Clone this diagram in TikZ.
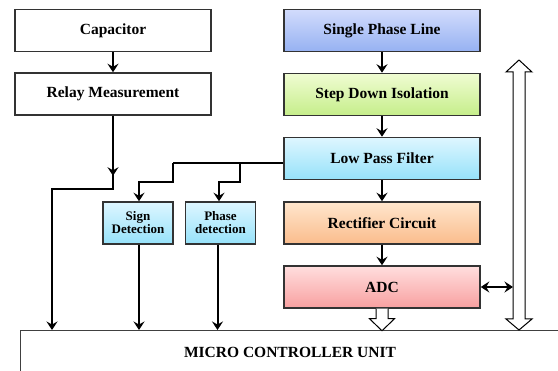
\documentclass[tikz,border=0pt]{standalone}
\usepackage{fontspec}
\setmainfont{Liberation Serif}
\usetikzlibrary{arrows.meta}

\definecolor{splTop}{RGB}{210,220,252}
\definecolor{splBot}{RGB}{150,178,242}
\definecolor{sdiTop}{RGB}{240,252,210}
\definecolor{sdiBot}{RGB}{198,238,138}
\definecolor{lpfTop}{RGB}{222,246,255}
\definecolor{lpfBot}{RGB}{150,226,250}
\definecolor{recTop}{RGB}{255,230,205}
\definecolor{recBot}{RGB}{250,188,140}
\definecolor{adcTop}{RGB}{255,222,222}
\definecolor{adcBot}{RGB}{248,160,160}

\tikzset{
  block/.style={draw=black!80, line width=1.5pt, minimum width=196pt, minimum height=42pt,
    inner sep=2pt, align=center, font=\fontsize{15.5}{17}\selectfont\bfseries},
  smallblock/.style={block, minimum width=70pt, font=\fontsize{13}{13}\selectfont\bfseries},
  arr/.style={line width=2pt, -{Stealth[length=8.5pt,width=11pt,inset=3pt]}},
  dblarr/.style={line width=2pt, {Stealth[length=8.5pt,width=11pt,inset=3pt]}-{Stealth[length=8.5pt,width=11pt,inset=3pt]}},
  hollow/.style={draw=black, line width=1pt, fill=white},
}

\begin{document}
\begin{tikzpicture}[x=1pt,y=-1pt]
  \useasboundingbox (0,0) rectangle (558,371);

  % left column
  \node[block, fill=white] (cap) at (113,30.5) {Capacitor};
  \node[block, fill=white] (relay) at (113,94) {Relay Measurement};

  % right column
  \node[block, top color=splTop, bottom color=splBot] (spl) at (382,30.5) {Single Phase Line};
  \node[block, top color=sdiTop, bottom color=sdiBot] (sdi) at (382,94.5) {Step Down Isolation};
  \node[block, top color=lpfTop, bottom color=lpfBot] (lpf) at (382,158.5) {Low Pass Filter};
  \node[block, top color=recTop, bottom color=recBot] (rec) at (382,223) {Rectifier Circuit};
  \node[block, top color=adcTop, bottom color=adcBot] (adc) at (382,287) {ADC};

  \node[smallblock, top color=lpfTop, bottom color=lpfBot] (sign) at (138,223) {Sign\\Detection};
  \node[smallblock, top color=lpfTop, bottom color=lpfBot] (phase) at (220.5,223) {Phase\\detection};

  % controller
  \coordinate (mcutop) at (20,330);
  \draw[line width=0.8pt, black!75] (20,380) -- (mcutop) -- (570,330);
  \node[font=\fontsize{15.5}{17}\selectfont\bfseries] (mcu) at (290,352) {MICRO CONTROLLER UNIT};

  \draw[arr] (cap) -- (relay);
  \draw[arr] (spl) -- (sdi);
  \draw[arr] (sdi) -- (lpf);
  \draw[arr] (lpf) -- (rec);
  \draw[arr] (rec) -- (adc);

  \draw[arr] (relay.south) -- ++(0,60);
  \draw[arr] (relay.south) -- ++(0,73) -| (52,330);

  \coordinate (lpfout) at ([yshift=-4.5pt]lpf.west);
  \draw[line width=2pt] (lpfout) -- (173,163);
  \draw[arr] (173,163) -- (173,182) -| ([xshift=1pt]sign.north);
  \draw[arr] (240,163) -- (240,182) -| ([xshift=-1.5pt]phase.north);

  \draw[arr] ([xshift=1pt]sign.south) -- ([xshift=1pt]sign.south |- mcutop);
  \draw[arr] ([xshift=-3pt]phase.south) -- ([xshift=-3pt]phase.south |- mcutop);

  % bus arrows
  \coordinate (bus) at (513,287);
  \draw[dblarr] (adc.east) -- (bus);
  \draw[hollow] ([xshift=-6pt]adc.south) -- ++(0,10) -- ++(-6.5,0) -- ++(12.5,12)
    -- ++(12.5,-12) -- ++(-6.5,0) -- ++(0,-10);
  \draw[hollow] (519,60) -- (532,72) -- (525,72) -- (525,319) -- (532,319) -- (519,330)
    -- (506,319) -- (513,319) -- (513,72) -- (506,72) -- cycle;
\end{tikzpicture}
\end{document}
